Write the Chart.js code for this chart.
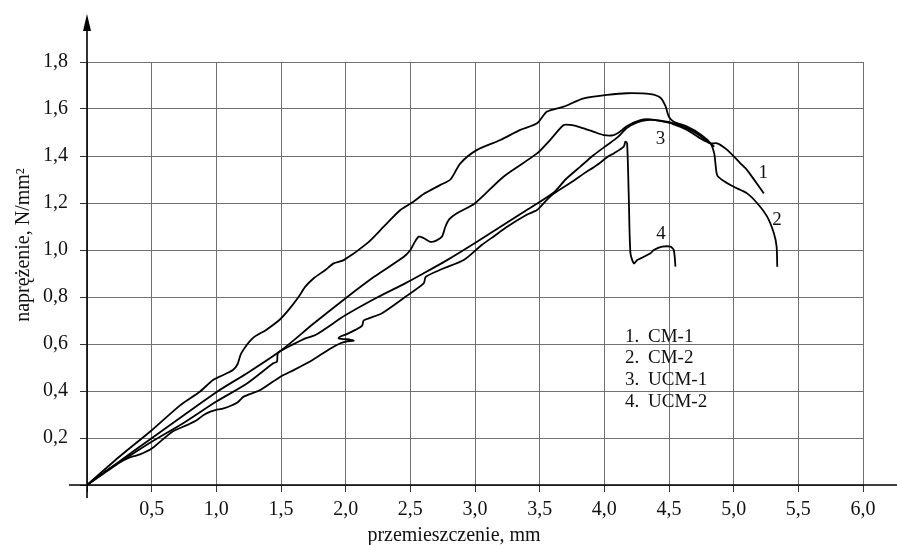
<!DOCTYPE html>
<html>
<head>
<meta charset="utf-8">
<script src="https://cdn.jsdelivr.net/npm/chart.js@4.4.0/dist/chart.umd.min.js"></script>
<style>
  body { margin: 0; background: #fff; }
</style>
</head>
<body>
<canvas id="wykres" width="897" height="545"></canvas>
<script>
// przemieszczenie [mm] i naprężenie [N/mm2] - próbka CM-1
var cm1X = [0, 0.25, 0.5, 1.0, 1.25, 1.5, 1.75, 2.0, 2.22, 2.45, 2.5, 2.53, 2.565, 2.605, 2.655, 2.70, 2.745, 2.771, 2.80, 2.86, 3.0, 3.22, 3.48, 3.58, 3.686, 3.738, 3.815, 3.918, 3.995, 4.073, 4.124, 4.176, 4.279, 4.357, 4.434, 4.537, 4.64, 4.744, 4.821, 4.873, 4.95, 5.052, 5.104, 5.233];
var cm1Y = [0, 0.10, 0.199, 0.395, 0.48, 0.572, 0.686, 0.795, 0.886, 0.971, 1.0, 1.03, 1.057, 1.05, 1.035, 1.04, 1.057, 1.099, 1.13, 1.156, 1.199, 1.312, 1.411, 1.468, 1.532, 1.532, 1.522, 1.503, 1.489, 1.489, 1.505, 1.528, 1.553, 1.556, 1.549, 1.535, 1.511, 1.475, 1.454, 1.454, 1.426, 1.369, 1.34, 1.241];

// próbka CM-2
var cm2X = [0, 0.25, 0.503, 0.722, 0.872, 0.974, 1.026, 1.128, 1.165, 1.192, 1.282, 1.385, 1.487, 1.559, 1.637, 1.688, 1.753, 1.843, 1.907, 1.985, 2.165, 2.294, 2.423, 2.526, 2.603, 2.733, 2.81, 2.887, 3.016, 3.196, 3.35, 3.48, 3.557, 3.686, 3.841, 4.022, 4.176, 4.357, 4.434, 4.473, 4.499, 4.537, 4.64, 4.744, 4.821, 4.85, 4.859, 4.872, 4.911, 5.001, 5.104, 5.182, 5.259, 5.311, 5.332, 5.337];
var cm2Y = [0, 0.12, 0.234, 0.340, 0.397, 0.447, 0.461, 0.489, 0.515, 0.560, 0.625, 0.660, 0.702, 0.745, 0.801, 0.844, 0.880, 0.915, 0.943, 0.957, 1.028, 1.099, 1.170, 1.206, 1.238, 1.277, 1.300, 1.369, 1.426, 1.468, 1.511, 1.539, 1.589, 1.610, 1.645, 1.660, 1.667, 1.663, 1.648, 1.612, 1.567, 1.546, 1.525, 1.492, 1.454, 1.410, 1.369, 1.319, 1.298, 1.269, 1.241, 1.199, 1.142, 1.071, 1.014, 0.929];

// próbka UCM-1
var ucm1X = [0, 0.25, 0.5, 0.75, 1.0, 1.24, 1.44, 1.469, 1.475, 1.508, 1.585, 1.688, 1.766, 2.0, 2.25, 2.46, 2.6, 2.784, 3.0, 3.2, 3.4, 3.609, 3.70, 3.815, 3.918, 4.022, 4.099, 4.176, 4.254, 4.331, 4.434, 4.563, 4.666, 4.769, 4.85];
var ucm1Y = [0, 0.095, 0.184, 0.265, 0.355, 0.433, 0.518, 0.525, 0.560, 0.574, 0.596, 0.624, 0.638, 0.723, 0.80, 0.858, 0.90, 0.957, 1.03, 1.10, 1.17, 1.245, 1.30, 1.355, 1.404, 1.447, 1.478, 1.52, 1.543, 1.553, 1.55, 1.535, 1.511, 1.475, 1.44];

// próbka UCM-2 (z nagłym spadkiem po zniszczeniu)
var ucm2X = [0, 0.2, 0.335, 0.41, 0.503, 0.657, 0.773, 0.851, 0.902, 0.954, 0.992, 1.057, 1.16, 1.211, 1.34, 1.495, 1.598, 1.744, 1.88, 1.96, 2.003, 2.062, 2.04, 1.946, 1.96, 2.0, 2.075, 2.127, 2.139, 2.178, 2.281, 2.462, 2.603, 2.62, 2.75, 2.913, 3.05, 3.15, 3.248, 3.4, 3.48, 3.55, 3.609, 3.75, 3.841, 3.944, 4.034, 4.073, 4.15, 4.163, 4.176, 4.189, 4.202, 4.228, 4.254, 4.305, 4.357, 4.382, 4.447, 4.511, 4.537, 4.55];
var ucm2Y = [0, 0.08, 0.118, 0.13, 0.156, 0.226, 0.255, 0.277, 0.298, 0.312, 0.319, 0.326, 0.350, 0.376, 0.404, 0.461, 0.489, 0.532, 0.58, 0.603, 0.610, 0.614, 0.618, 0.624, 0.632, 0.640, 0.660, 0.678, 0.700, 0.709, 0.731, 0.801, 0.858, 0.886, 0.92, 0.957, 1.02, 1.06, 1.099, 1.15, 1.17, 1.21, 1.24, 1.29, 1.325, 1.362, 1.40, 1.411, 1.44, 1.461, 1.454, 1.227, 0.986, 0.943, 0.957, 0.971, 0.986, 1.0, 1.014, 1.014, 1.0, 0.929];

var seriesNames = ['CM-1', 'CM-2', 'UCM-1', 'UCM-2'];
var xTickLabels = ['', '0,5', '1,0', '1,5', '2,0', '2,5', '3,0', '3,5', '4,0', '4,5', '5,0', '5,5', '6,0'];
var yTickLabels = ['', '0,2', '0,4', '0,6', '0,8', '1,0', '1,2', '1,4', '1,6', '1,8'];

var czcionka = '"Liberation Serif", "Times New Roman", serif';

function punkty(xs, ys) {
  return xs.map(function(x, i) { return {x: x, y: ys[i]}; });
}

function krzywa(xs, ys) {
  return {
    data: punkty(xs, ys),
    showLine: true,
    borderColor: '#000',
    borderWidth: 1.8,
    pointRadius: 0,
    tension: 0.25,
    fill: false
  };
}

// osie ze strzałką, tytuły osi, numery krzywych i opis
var rysunek = {
  id: 'rysunek',
  beforeDatasetsDraw: function(chart) {
    var ctx = chart.ctx;
    var x0 = chart.scales.x.getPixelForValue(0);
    var y0 = chart.scales.y.getPixelForValue(0);
    ctx.save();
    ctx.strokeStyle = '#000';
    ctx.lineWidth = 1.6;
    ctx.beginPath();
    ctx.moveTo(x0 - 18, y0);
    ctx.lineTo(chart.width, y0);
    ctx.moveTo(x0, y0 + 13);
    ctx.lineTo(x0, 28);
    ctx.stroke();
    ctx.fillStyle = '#000';
    ctx.beginPath();
    ctx.moveTo(x0, 14);
    ctx.lineTo(x0 - 4, 31);
    ctx.lineTo(x0 + 4, 31);
    ctx.closePath();
    ctx.fill();
    ctx.restore();
  },
  afterDraw: function(chart) {
    var ctx = chart.ctx;
    var sx = chart.scales.x, sy = chart.scales.y;
    ctx.save();
    ctx.fillStyle = '#111';
    ctx.font = '20px ' + czcionka;
    ctx.textAlign = 'center';
    ctx.textBaseline = 'middle';
    ctx.fillText('przemieszczenie, mm', 454, 536);

    ctx.save();
    ctx.translate(24, 245);
    ctx.rotate(-Math.PI / 2);
    ctx.fillText('naprężenie, N/mm²', 0, 0);
    ctx.restore();

    // numery przy końcach krzywych
    ctx.font = '19px ' + czcionka;
    ctx.fillText('1', sx.getPixelForValue(5.228), sy.getPixelForValue(1.326));
    ctx.fillText('2', sx.getPixelForValue(5.336), sy.getPixelForValue(1.128));
    ctx.fillText('3', sx.getPixelForValue(4.434), sy.getPixelForValue(1.472));
    ctx.fillText('4', sx.getPixelForValue(4.439), sy.getPixelForValue(1.07));

    // opis próbek
    ctx.textAlign = 'left';
    var lx = sx.getPixelForValue(4.16);
    seriesNames.forEach(function(n, i) {
      var ly = sy.getPixelForValue(0.631) + i * 21.7;
      ctx.fillText((i + 1) + '.', lx, ly);
      ctx.fillText(n, lx + 23, ly);
    });
    ctx.restore();
  }
};

var chart = new Chart('wykres', {
  type: 'scatter',
  data: {
    datasets: [
      krzywa(cm1X, cm1Y),
      krzywa(cm2X, cm2Y),
      krzywa(ucm1X, ucm1Y),
      krzywa(ucm2X, ucm2Y)
    ]
  },
  options: {
    responsive: false,
    animation: false,
    devicePixelRatio: 1,
    layout: { padding: { top: 62, right: 34, left: 0, bottom: 0 } },
    plugins: {
      legend: { display: false },
      tooltip: { enabled: false }
    },
    scales: {
      x: {
        type: 'linear',
        min: 0,
        max: 6,
        afterFit: function(s) { s.height = 60; },
        ticks: {
          stepSize: 0.5,
          autoSkip: false,
          maxRotation: 0,
          padding: 6,
          color: '#111',
          font: { family: czcionka, size: 20 },
          callback: function(v, i) { return xTickLabels[i]; }
        },
        grid: { color: '#707070', lineWidth: 1, tickLength: 7, tickColor: '#333' },
        border: { display: false }
      },
      y: {
        type: 'linear',
        min: 0,
        max: 1.8,
        afterFit: function(s) { s.width = 87; },
        ticks: {
          stepSize: 0.2,
          autoSkip: false,
          padding: 12,
          color: '#111',
          font: { family: czcionka, size: 20 },
          callback: function(v, i) { return yTickLabels[i]; }
        },
        grid: { color: '#707070', lineWidth: 1, tickLength: 7, tickColor: '#333' },
        border: { display: false }
      }
    }
  },
  plugins: [rysunek]
});
</script>
</body>
</html>
